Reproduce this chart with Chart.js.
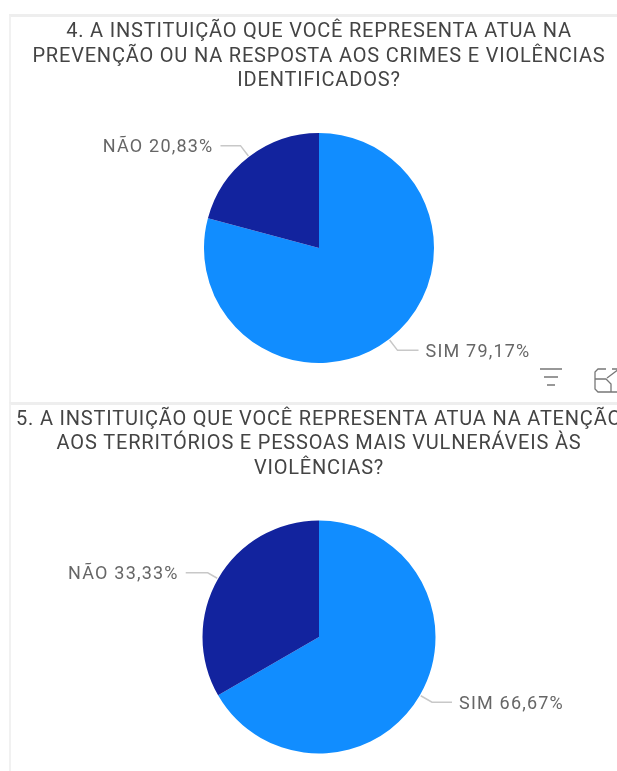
<!DOCTYPE html>
<html>
<head>
<meta charset="utf-8">
<script src="https://cdn.jsdelivr.net/npm/chart.js@4/dist/chart.umd.min.js"></script>
<style>
    html, body { margin: 0; padding: 0; background: #fff; overflow: hidden; }
    #page { position: relative; width: 617px; height: 771px; overflow: hidden; }
    .panel { position: absolute; left: 9px; width: 620px; border-left: 2px solid #f1f1f1; border-top: 3px solid #eeeeee; box-sizing: border-box; }
    canvas { position: absolute; left: 0; display: block; filter: blur(0.4px); }
</style>
</head>
<body>
<div id="page">
    <div class="panel" style="top:14px;height:388px"></div>
    <div class="panel" style="top:402px;height:369px"></div>
    <canvas id="chart-q4" style="left:9px;top:17px" width="620" height="385"></canvas>
    <canvas id="chart-q5" style="left:9px;top:405px" width="620" height="366"></canvas>
</div>
<script>
const categories = ['SIM', 'NÃO'];
const valuesQ4 = [79.17, 20.83];
const valuesQ5 = [66.67, 33.33];
const labelsQ4 = ['SIM 79,17%', 'NÃO 20,83%'];
const labelsQ5 = ['SIM 66,67%', 'NÃO 33,33%'];
const titleQ4 = [
    '4. A INSTITUIÇÃO QUE VOCÊ REPRESENTA ATUA NA',
    'PREVENÇÃO OU NA RESPOSTA AOS CRIMES E VIOLÊNCIAS',
    'IDENTIFICADOS?'
];
const titleQ5 = [
    '5. A INSTITUIÇÃO QUE VOCÊ REPRESENTA ATUA NA ATENÇÃO',
    'AOS TERRITÓRIOS E PESSOAS MAIS VULNERÁVEIS ÀS',
    'VIOLÊNCIAS?'
];
const sliceColors = ['#118DFF', '#12239E'];

// the original font is wider than Roboto, so open the letters up a bit
const titleSpacing = {
    id: 'titleSpacing',
    beforeDraw(chart) {
        chart.ctx.letterSpacing = '0.8px';
    }
};

// leader lines and outside labels, placed from the arcs the library computed
const leaderLabels = {
    id: 'leaderLabels',
    afterDatasetsDraw(chart, args, opts) {
        const ctx = chart.ctx;
        chart.getDatasetMeta(0).data.forEach(function (arc, i) {
            const mid = (arc.startAngle + arc.endAngle) / 2;
            const sx = arc.x + Math.cos(mid) * (arc.outerRadius + 1);
            const sy = arc.y + Math.sin(mid) * (arc.outerRadius + 1);
            const ex = arc.x + Math.cos(mid) * (arc.outerRadius + opts.elbow[i]);
            const ey = arc.y + Math.sin(mid) * (arc.outerRadius + opts.elbow[i]);
            const dir = Math.cos(mid) >= 0 ? 1 : -1;
            const hx = ex + dir * opts.run[i];

            ctx.save();
            ctx.strokeStyle = '#c8c8c8';
            ctx.lineWidth = 1.5;
            ctx.beginPath();
            ctx.moveTo(sx, sy);
            ctx.lineTo(ex, ey);
            ctx.lineTo(hx, ey);
            ctx.stroke();

            ctx.fillStyle = '#666666';
            ctx.font = '18px Roboto';
            ctx.letterSpacing = '1.2px';
            ctx.textBaseline = 'middle';
            ctx.textAlign = dir > 0 ? 'left' : 'right';
            ctx.fillText(opts.labels[i], hx + dir * 7, ey + 2);
            ctx.restore();
        });
    }
};

// the filter and expand icons of the visual header
const headerIcons = {
    id: 'headerIcons',
    afterDraw(chart, args, opts) {
        if (!opts.show) return;
        const ctx = chart.ctx;
        ctx.save();
        ctx.strokeStyle = '#777777';
        ctx.lineWidth = 1.3;
        ctx.beginPath();
        ctx.moveTo(531, 352); ctx.lineTo(553, 352);
        ctx.moveTo(535, 360); ctx.lineTo(549, 360);
        ctx.moveTo(538, 368); ctx.lineTo(546, 368);
        ctx.stroke();
        ctx.beginPath();
        ctx.moveTo(597, 352); ctx.lineTo(589, 352); ctx.lineTo(586, 355); ctx.lineTo(586, 372);
        ctx.lineTo(589, 375); ctx.lineTo(610, 375);
        ctx.moveTo(586, 362); ctx.lineTo(597, 362); ctx.lineTo(602, 367); ctx.lineTo(602, 375);
        ctx.moveTo(598, 361); ctx.lineTo(610, 352);
        ctx.moveTo(603, 352); ctx.lineTo(610, 352); ctx.lineTo(610, 359);
        ctx.stroke();
        ctx.restore();
    }
};

function makePie(id, values, title, labels, titlePad, bottomPad, elbow, run, showIcons) {
    return new Chart(document.getElementById(id), {
        type: 'pie',
        data: {
            labels: categories,
            datasets: [{
                data: values,
                backgroundColor: sliceColors,
                borderWidth: 0,
                hoverOffset: 0
            }]
        },
        options: {
            responsive: false,
            animation: false,
            layout: { padding: { bottom: bottomPad } },
            plugins: {
                legend: { display: false },
                tooltip: { enabled: false },
                title: {
                    display: true,
                    text: title,
                    color: '#444444',
                    font: { family: 'Roboto', size: 20, weight: 'normal', lineHeight: 1.22 },
                    padding: titlePad
                },
                leaderLabels: { labels: labels, elbow: elbow, run: run },
                headerIcons: { show: showIcons }
            }
        },
        plugins: [titleSpacing, leaderLabels, headerIcons]
    });
}

makePie('chart-q4', valuesQ4, titleQ4, labelsQ4, { top: 3, bottom: 39.8 }, 39, [14, 14], [21, 20], true);
makePie('chart-q5', valuesQ5, titleQ5, labelsQ5, { top: 2.5, bottom: 39.8 }, 17.5, [14, 12], [20, 22], false);
</script>
</body>
</html>
